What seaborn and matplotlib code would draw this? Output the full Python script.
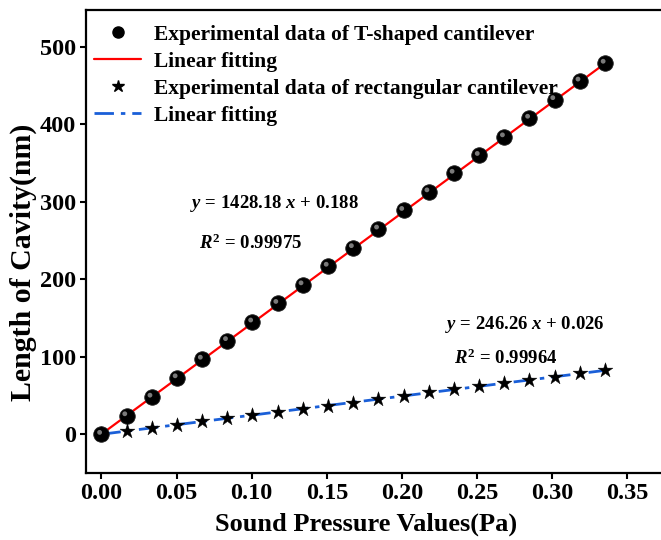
import matplotlib
matplotlib.use("Agg")
import matplotlib.pyplot as plt
import seaborn as sns
import numpy as np
import pandas as pd
from matplotlib.lines import Line2D

# ---- data ----
pressure = [0.0, 0.01675, 0.0335, 0.05025, 0.067, 0.08375, 0.1005, 0.11725, 0.134, 0.15075,
            0.1675, 0.18425, 0.201, 0.21775, 0.2345, 0.25125, 0.268, 0.28475, 0.3015, 0.31825, 0.335]
t_shaped = [0, 24, 48, 73, 97, 121, 145, 169, 193, 217, 241, 265, 289, 313, 337, 360, 384, 408, 432, 456, 479]
rectangular = [0, 4, 8, 12, 17, 21, 25, 29, 33, 37, 41, 45, 50, 54, 58, 62, 66, 70, 74, 79, 83]
t_slope, t_icpt = 1428.18, 0.188
r_slope, r_icpt = 246.26, 0.026
t_r2 = "0.99975"
r_r2 = "0.99964"
x_ticks = [0.00, 0.05, 0.10, 0.15, 0.20, 0.25, 0.30, 0.35]
y_ticks = [0, 100, 200, 300, 400, 500]

sns.set_theme(style="ticks")
plt.rcParams['font.family'] = ['Liberation Serif', 'DejaVu Serif']
plt.rcParams['font.weight'] = 'bold'
plt.rcParams['text.color'] = 'black'
plt.rcParams['axes.labelcolor'] = 'black'
plt.rcParams['xtick.color'] = 'black'
plt.rcParams['ytick.color'] = 'black'
plt.rcParams['mathtext.fontset'] = 'custom'
plt.rcParams['mathtext.rm'] = 'Liberation Serif:bold'
plt.rcParams['mathtext.it'] = 'Liberation Serif:italic:bold'
plt.rcParams['mathtext.bf'] = 'Liberation Serif:bold'

fig = plt.figure(figsize=(6.61, 5.40), dpi=100)
ax = fig.add_axes([0.130, 0.124, 0.875, 0.858])

px = np.array(pressure)
df = pd.DataFrame({"x": px, "t": t_shaped, "r": rectangular,
                   "tfit": t_slope * px + t_icpt, "rfit": r_slope * px + r_icpt})

sns.lineplot(data=df, x="x", y="tfit", ax=ax, color="#ff0000", lw=1.6, zorder=2)
sns.lineplot(data=df, x="x", y="rfit", ax=ax, color="#1a5fd8", lw=2.0, zorder=2)
ax.lines[-1].set_dashes([7, 2.5, 1.6, 2.5])
sns.scatterplot(data=df, x="x", y="t", ax=ax, marker="o", s=125, color="black",
                edgecolor="#222222", linewidth=0.6, zorder=3)
sns.scatterplot(data=df, x="x", y="r", ax=ax, marker="*", s=125, color="black",
                edgecolor="black", linewidth=0.3, zorder=3)
# highlight on spheres
sns.scatterplot(x=px - 0.0012, y=np.array(t_shaped) + 2.5, ax=ax, marker="o", s=12,
                color="#9a9a9a", edgecolor="none", linewidth=0, zorder=4, alpha=0.8)

ax.set_xlim(-0.0103, 0.3745)
ax.set_ylim(-50, 548)
ax.set_xticks(x_ticks)
ax.set_xticklabels([f"{v:.2f}" for v in x_ticks])
ax.set_yticks(y_ticks)
ax.tick_params(axis='both', direction='out', length=4.5, width=1.5, labelsize=17.5, pad=2.5)
for lab in ax.get_xticklabels() + ax.get_yticklabels():
    lab.set_fontweight('bold')
for s in ['left', 'bottom', 'top']:
    ax.spines[s].set_linewidth(1.6)
    ax.spines[s].set_color('black')
ax.spines['right'].set_visible(False)

ax.set_xlabel("Sound Pressure Values(Pa)", fontsize=19, fontweight='bold', labelpad=2)
ax.xaxis.set_label_coords(0.484, -0.085)
ax.set_ylabel("Length of Cavity(nm)", fontsize=21.5, fontweight='bold')
ax.yaxis.set_label_coords(-0.085, 0.455)

ax.text(0.115, 298, r"$y$ = 1428.18 $x$ + 0.188", ha='center', va='center', fontsize=13.5, fontweight='bold')
ax.text(0.099, 247, r"$R^2$ = " + t_r2, ha='center', va='center', fontsize=13.5, fontweight='bold')
ax.text(0.282, 142, r"$y$ = 246.26 $x$ + 0.026", ha='center', va='center', fontsize=13.5, fontweight='bold')
ax.text(0.269, 98, r"$R^2$ = " + r_r2, ha='center', va='center', fontsize=13.5, fontweight='bold')

handles = [
    Line2D([], [], marker='o', ls='none', color='black', markersize=8),
    Line2D([], [], color='#ff0000', lw=1.6),
    Line2D([], [], marker='*', ls='none', color='black', markersize=9),
    Line2D([], [], color='#1a5fd8', lw=2.0, dashes=[7, 2.5, 1.6, 2.5]),
]
labels = ["Experimental data of T-shaped cantilever", "Linear fitting",
          "Experimental data of rectangular cantilever", "Linear fitting"]
ax.legend(handles, labels, loc='upper left', frameon=False,
          prop={'weight': 'bold', 'size': 15.5}, handlelength=2.2, handletextpad=0.6,
          labelspacing=0.32, borderaxespad=0.3, bbox_to_anchor=(-0.012, 1.0))

fig.savefig("out.png", dpi=100)
